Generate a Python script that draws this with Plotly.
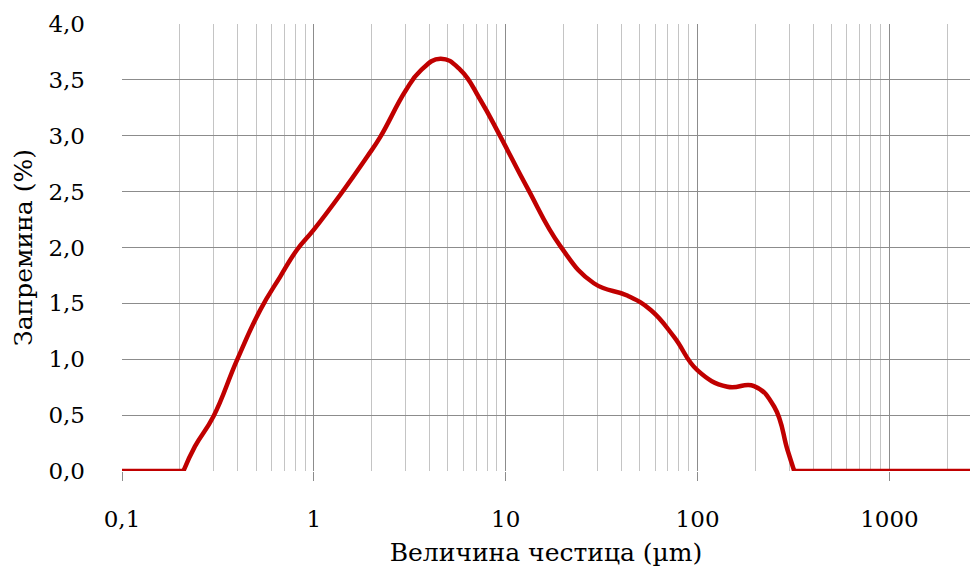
import numpy as np
import plotly.graph_objects as go

# particle size (µm) and volume fraction (%)
size_um = [0.1, 0.15, 0.209, 0.240, 0.30, 0.397, 0.525, 0.668, 0.817, 1.0, 1.37, 1.89,
           2.22, 3.0, 3.59, 4.57, 5.8, 7.38, 9.4, 12.9, 19.3, 28.8, 43.0, 57.0, 75.4,
           100.0, 143.0, 197.0, 251.0, 294.0, 319.0, 400.0, 1000.0, 2630.0]
volume_pct = [0.0, 0.0, 0.0, 0.22, 0.49, 0.99, 1.44, 1.74, 1.98, 2.16, 2.47, 2.81,
              2.99, 3.40, 3.58, 3.69, 3.59, 3.32, 2.99, 2.54, 2.01, 1.68, 1.57, 1.44, 1.20,
              0.90, 0.754, 0.76, 0.575, 0.19, 0.0, 0.0, 0.0, 0.0]

x_tickvals = [0.1, 1, 10, 100, 1000]
x_ticktext = ["0,1", "1", "10", "100", "1000"]
y_tickvals = [0, 0.5, 1.0, 1.5, 2.0, 2.5, 3.0, 3.5, 4.0]
y_ticktext = ["0,0", "0,5", "1,0", "1,5", "2,0", "2,5", "3,0", "3,5", "4,0"]

minor_vals = [k * 10.0 ** n for n in range(-1, 4) for k in range(2, 10) if k * 10.0 ** n < 2630]

FONT = "DejaVu Serif"
LINE_COLOR = "#c00000"

# split where the distribution leaves / returns to zero so the spline has no overshoot
i0 = 2
i1 = volume_pct.index(0.0, i0 + 1)

fig = go.Figure()
segments = [
    (slice(0, i0 + 1), "linear"),
    (slice(i0, i1 + 1), "spline"),
    (slice(i1, len(size_um)), "linear"),
]
for sl, shape in segments:
    line = dict(color=LINE_COLOR, width=4.5, shape=shape)
    if shape == "spline":
        line["smoothing"] = 1.3
    fig.add_trace(go.Scatter(
        x=size_um[sl], y=volume_pct[sl], mode="lines", line=line,
        showlegend=False, hoverinfo="skip",
    ))

fig.update_layout(
    width=970, height=567,
    margin=dict(l=122, r=0, t=24, b=96),
    paper_bgcolor="white", plot_bgcolor="white",
    font=dict(family=FONT, size=23, color="#000000"),
    xaxis=dict(
        type="log", range=[-1, np.log10(2630)],
        tickmode="array", tickvals=x_tickvals, ticktext=x_ticktext,
        showgrid=True, gridcolor="#8c8c8c", gridwidth=1.3,
        ticks="outside", ticklen=9, tickcolor="#8c8c8c", tickwidth=1.3,
        ticklabelstandoff=18,
        minor=dict(tickmode="array", tickvals=minor_vals, showgrid=True,
                   gridcolor="#c4c4c4", gridwidth=1.3, ticks=""),
        showline=False, zeroline=False,
        title=dict(text="Величина честица (µm)", font=dict(family=FONT, size=25), standoff=12),
    ),
    yaxis=dict(
        range=[0, 4.0],
        tickmode="array", tickvals=y_tickvals, ticktext=y_ticktext,
        showgrid=True, gridcolor="#8c8c8c", gridwidth=1.3,
        ticks="", ticklabelstandoff=36,
        showline=False, zeroline=False,
        title=dict(text="Запремина (%)", font=dict(family=FONT, size=25), standoff=8),
    ),
)

fig.write_html("out.html")
